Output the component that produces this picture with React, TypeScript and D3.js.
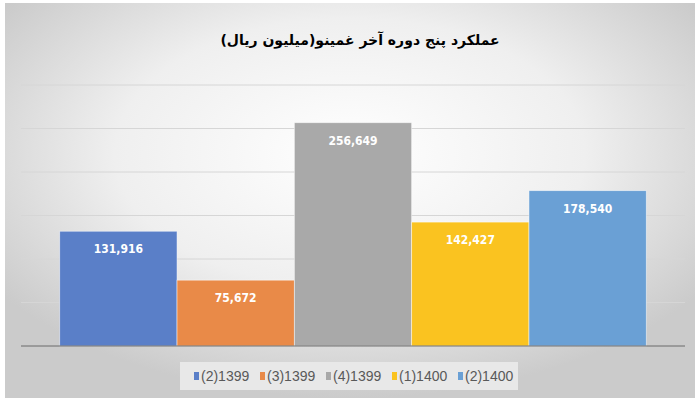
import React from 'react';
import * as d3 from 'd3';

const title = 'عملکرد پنج دوره آخر غمینو(میلیون ریال)';
const periods = ['(2)1399', '(3)1399', '(4)1399', '(1)1400', '(2)1400'];
const values = [131916, 75672, 256649, 142427, 178540];
const colors = ['#5a7fc8', '#e98a48', '#a9a9a9', '#fac320', '#6aa0d5'];
const yTicks = [0, 50000, 100000, 150000, 200000, 250000, 300000];

const width = 700;
const height = 400;
const plot = { left: 21, right: 685, top: 85, bottom: 346 };

export default function App() {
  const x = d3.scaleBand<string>()
    .domain(periods)
    .range([plot.left, plot.right])
    .paddingInner(0)
    .paddingOuter(0.33);

  const y = d3.scaleLinear()
    .domain([0, 300000])
    .range([plot.bottom, plot.top]);

  const fmt = d3.format(',');

  // legend layout
  const legendX = 194;
  const legendStep = 66;

  return (
    <div style={{ position: 'absolute', left: 0, top: 0 }}>
      <svg width={width} height={height} style={{ display: 'block' }}>
        <defs>
          <radialGradient id="bg" cx="50%" cy="38%" r="62%">
            <stop offset="0%" stopColor="#ffffff" />
            <stop offset="55%" stopColor="#efefef" />
            <stop offset="100%" stopColor="#cbcbcb" />
          </radialGradient>
        </defs>
        <rect x={0} y={0} width={width} height={height} fill="#ffffff" />
        <rect x={5} y={3} width={690} height={395} fill="url(#bg)" />

        <text
          x={360}
          y={45}
          textAnchor="middle"
          direction="rtl"
          fontFamily="DejaVu Sans, sans-serif"
          fontWeight="bold"
          fontSize={14}
          fill="#000"
        >
          {title}
        </text>

        {/* gridlines */}
        {yTicks.slice(1).map(t => (
          <line
            key={t}
            x1={plot.left}
            x2={plot.right}
            y1={y(t)}
            y2={y(t)}
            stroke="#d6d6d6"
            strokeWidth={1}
          />
        ))}

        {/* bars */}
        {periods.map((p, i) => (
          <g key={p}>
            <rect
              x={x(p)}
              y={y(values[i])}
              width={x.bandwidth()}
              height={plot.bottom - y(values[i])}
              fill={colors[i]}
              stroke="#ffffff"
              strokeOpacity={0.6}
              strokeWidth={0.8}
            />
            <text
              x={(x(p) ?? 0) + x.bandwidth() / 2}
              y={y(values[i]) + 22}
              textAnchor="middle"
              fontFamily="DejaVu Sans Condensed, Liberation Sans Narrow, Arial, sans-serif"
              fontStretch="condensed"
              fontWeight="bold"
              fontSize={12}
              fill="#ffffff"
            >
              {fmt(values[i])}
            </text>
          </g>
        ))}

        {/* baseline */}
        <line
          x1={plot.left}
          x2={plot.right}
          y1={plot.bottom}
          y2={plot.bottom}
          stroke="#6b6b6b"
          strokeWidth={1}
        />

        {/* legend */}
        <rect x={180} y={362} width={338} height={28} fill="#e8e8e8" />
        {periods.map((p, i) => (
          <g key={p} transform={`translate(${legendX + i * legendStep},376)`}>
            <rect x={0} y={-4} width={5} height={8} fill={colors[i]} />
            <text
              x={7}
              y={5}
              fontFamily="Liberation Sans, Arial, sans-serif"
              fontSize={14}
              fill="#595959"
            >
              {p}
            </text>
          </g>
        ))}
      </svg>
    </div>
  );
}
